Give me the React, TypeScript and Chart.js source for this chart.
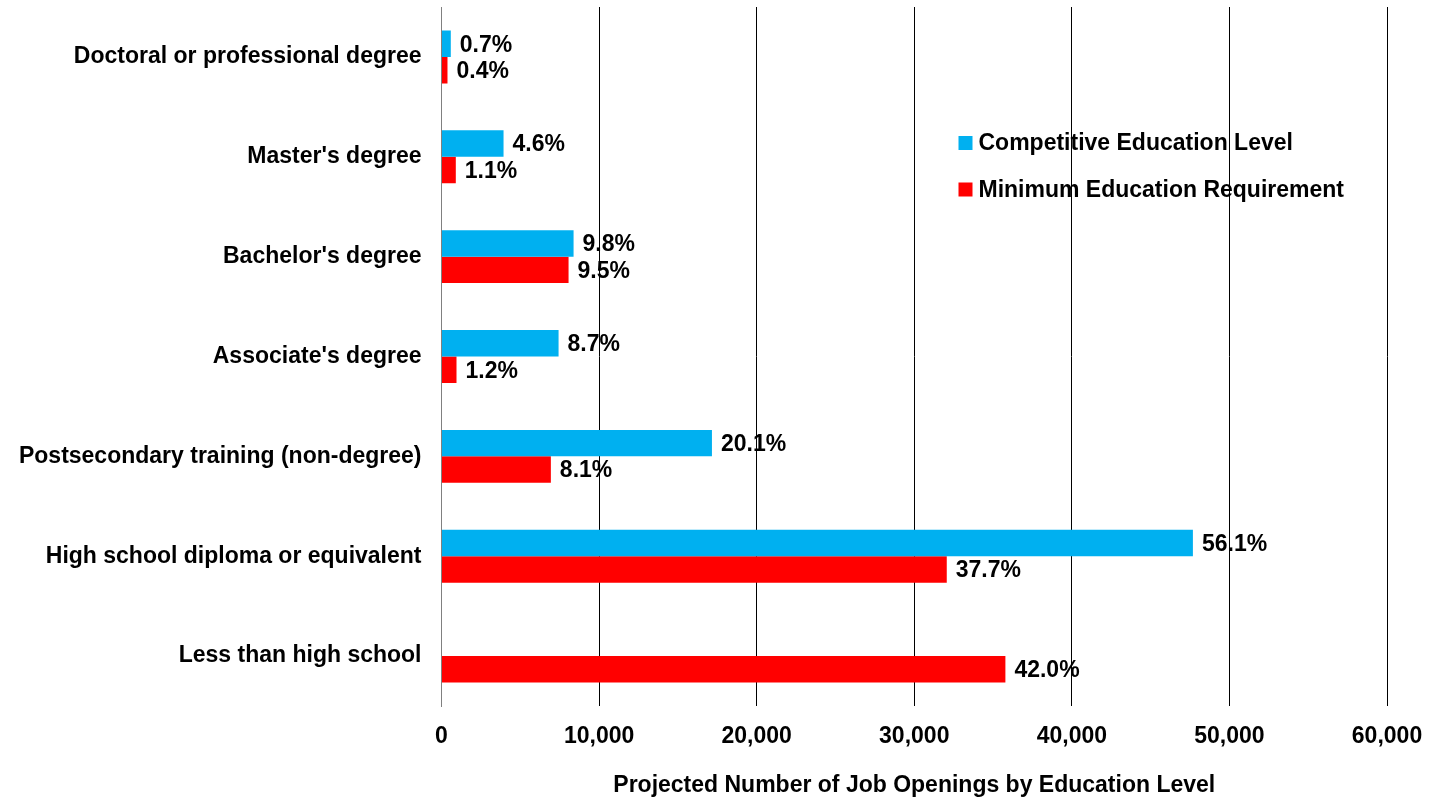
import React, { useEffect, useRef } from "react";
import { Chart, registerables } from "chart.js";

Chart.register(...registerables);

const categories = [
  "Doctoral or professional degree",
  "Master's degree",
  "Bachelor's degree",
  "Associate's degree",
  "Postsecondary training (non-degree)",
  "High school diploma or equivalent",
  "Less than high school",
];

const competitiveValues = [590, 3937, 8381, 7429, 17162, 47683, 0];
const minimumValues = [380, 908, 8063, 952, 6940, 32063, 35784];

const competitiveLabels = ["0.7%", "4.6%", "9.8%", "8.7%", "20.1%", "56.1%", ""];
const minimumLabels = ["0.4%", "1.1%", "9.5%", "1.2%", "8.1%", "37.7%", "42.0%"];

const seriesNames = ["Competitive Education Level", "Minimum Education Requirement"];
const seriesColors = ["#00B0F0", "#FF0000"];

const xMin = 0;
const xMax = 60000;
const xStep = 10000;
const xTitle = "Projected Number of Job Openings by Education Level";

const FONT_FAMILY = '"Liberation Sans", Arial, Helvetica, sans-serif';
const FONT_SIZE = 23;
const percentLabels = [competitiveLabels, minimumLabels];

const barLabelPlugin = {
  id: "barLabels",
  afterDatasetsDraw(chart: any) {
    const ctx = chart.ctx;
    ctx.save();
    ctx.font = `bold ${FONT_SIZE}px ${FONT_FAMILY}`;
    ctx.fillStyle = "#000";
    ctx.textAlign = "left";
    ctx.textBaseline = "middle";
    chart.data.datasets.forEach((_ds: any, di: number) => {
      const meta = chart.getDatasetMeta(di);
      const labels = percentLabels[di];
      meta.data.forEach((bar: any, i: number) => {
        const t = labels[i];
        if (!t) return;
        ctx.fillText(t, bar.x + 9, bar.y + 1.5);
      });
    });
    ctx.restore();
  },
};

const legendPlugin = {
  id: "insideLegend",
  afterDraw(chart: any) {
    const ctx = chart.ctx;
    const area = chart.chartArea;
    const boxX = area.left + 517;
    const firstY = 143;
    const gap = 46.5;
    const box = 14;
    ctx.save();
    ctx.font = `bold ${FONT_SIZE}px ${FONT_FAMILY}`;
    ctx.textAlign = "left";
    ctx.textBaseline = "middle";
    chart.data.datasets.forEach((ds: any, i: number) => {
      const cy = firstY + i * gap;
      ctx.fillStyle = ds.backgroundColor;
      ctx.fillRect(boxX, cy - box / 2, box, box);
      ctx.fillStyle = "#000";
      ctx.fillText(ds.label, boxX + 20, cy + 1);
    });
    ctx.restore();
  },
};

export default function App() {
  const canvasRef = useRef<HTMLCanvasElement | null>(null);

  useEffect(() => {
    if (!canvasRef.current) return;
    const chart = new Chart(canvasRef.current, {
      type: "bar",
      data: {
        labels: categories,
        datasets: [
          {
            label: seriesNames[0],
            data: competitiveValues,
            backgroundColor: seriesColors[0],
            categoryPercentage: 0.53,
            barPercentage: 1.0,
          },
          {
            label: seriesNames[1],
            data: minimumValues,
            backgroundColor: seriesColors[1],
            categoryPercentage: 0.53,
            barPercentage: 1.0,
          },
        ],
      },
      options: {
        indexAxis: "y",
        animation: false,
        responsive: true,
        maintainAspectRatio: false,
        layout: { padding: { top: 7, right: 45, bottom: 0, left: 0 } },
        plugins: {
          legend: { display: false },
          tooltip: { enabled: false },
        },
        scales: {
          x: {
            min: xMin,
            max: xMax,
            ticks: {
              stepSize: xStep,
              color: "#000",
              padding: 17,
              font: { family: FONT_FAMILY, size: FONT_SIZE, weight: "bold" },
              callback: (v: any) => Number(v).toLocaleString("en-US"),
            },
            grid: {
              color: (c: any) => (c.index === 0 ? "rgba(0,0,0,0)" : "#000"),
              lineWidth: 1,
              drawTicks: false,
            },
            border: { display: false },
            title: {
              display: true,
              text: xTitle,
              color: "#000",
              font: { family: FONT_FAMILY, size: FONT_SIZE, weight: "bold" },
              padding: { top: 0, bottom: 2 },
            },
            afterFit: (s: any) => {
              s.height = 95;
              s.paddingLeft = 0;
              s.paddingRight = 0;
            },
          },
          y: {
            ticks: {
              color: "#000",
              padding: 20,
              font: { family: FONT_FAMILY, size: FONT_SIZE, weight: "bold" },
            },
            grid: { display: false, drawTicks: false },
            border: { display: true, color: "#808080", width: 1 },
            afterFit: (s: any) => {
              s.width = 441.5;
              s.paddingTop = 0;
              s.paddingBottom = 0;
            },
          },
        },
      } as any,
      plugins: [barLabelPlugin, legendPlugin],
    });
    return () => chart.destroy();
  }, []);

  return (
    <div style={{ position: "fixed", left: 0, top: 0, width: 1432, height: 801, background: "#fff" }}>
      <canvas ref={canvasRef} />
    </div>
  );
}
